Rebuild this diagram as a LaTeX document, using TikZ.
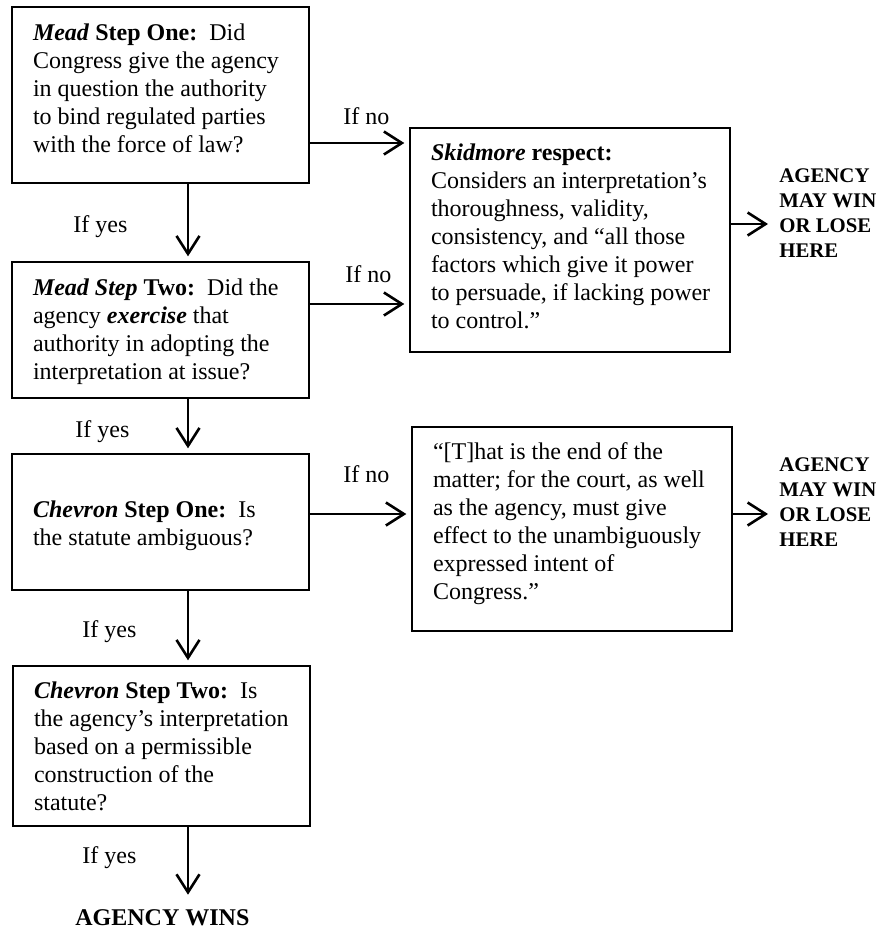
\documentclass[tikz,border=0pt]{standalone}
\usepackage{fontspec}
\setmainfont{Liberation Serif}
\usetikzlibrary{arrows.meta}
\newcommand\boxbody[4]{\parbox[c][#2][t]{#1}{\fontsize{12}{14}\selectfont\raggedright\leftskip=10.5pt\relax\rule{0pt}{#3}#4}}
\newcommand\verdict[1]{\parbox[t]{52pt}{\fontsize{10.4}{12.5}\selectfont\bfseries\raggedright #1}}
\tikzset{
  stepbox/.style={draw, line width=1.3pt, rectangle, inner sep=0pt},
  arr/.style={line width=1.3pt, -{Straight Barb[length=9pt,width=11.5pt]}, shorten >=2.2pt},
  lbl/.style={inner sep=0pt, anchor=base west, font=\fontsize{12}{14}\selectfont},
  verd/.style={inner sep=0pt, anchor=base west}
}
\begin{document}
\begin{tikzpicture}[x=0.5pt,y=-0.5pt]
\useasboundingbox (0,0) rectangle (883,928);
% main column
\node[stepbox] (b1) at (160.5,95) {\boxbody{148.5pt}{88pt}{16.5pt}{\textbf{\textit{Mead} Step One:}\ \ Did\\
Congress give the agency\\
in question the authority\\
to bind regulated parties\\
with the force of law?}};
\node[stepbox] (b2) at (160.5,330) {\boxbody{148.5pt}{68pt}{16.5pt}{\textbf{\textit{Mead Step} Two:}\ \ Did the\\
agency \textbf{\textit{exercise}} that\\
authority in adopting the\\
interpretation at issue?}};
\node[stepbox] (b3) at (160.5,522) {\boxbody{148.5pt}{68pt}{31.5pt}{\textbf{\textit{Chevron} Step One:}\ \ Is\\
the statute ambiguous?}};
\node[stepbox] (b4) at (161.5,746) {\boxbody{148.5pt}{80pt}{16pt}{\textbf{\textit{Chevron} Step Two:}\ \ Is\\
the agency’s interpretation\\
based on a permissible\\
construction of the\\
statute?}};
% side boxes
\node[stepbox] (s1) at (570,240) {\boxbody{160pt}{112pt}{16pt}{\textbf{\textit{Skidmore} respect:}\\
Considers an interpretation’s\\
thoroughness, validity,\\
consistency, and “all those\\
factors which give it power\\
to persuade, if lacking power\\
to control.”}};
\node[stepbox] (s2) at (572,529) {\boxbody{160pt}{102pt}{16pt}{“[T]hat is the end of the\\
matter; for the court, as well\\
as the agency, must give\\
effect to the unambiguously\\
expressed intent of\\
Congress.”}};
% outcomes
\node[verd] (a1) at (779,182) {\verdict{AGENCY\\MAY WIN\\OR LOSE\\HERE}};
\node[verd] (a2) at (779,471) {\verdict{AGENCY\\MAY WIN\\OR LOSE\\HERE}};
\node[lbl, font=\fontsize{12}{14}\selectfont\bfseries] (aw) at (75,925) {AGENCY WINS};
% labels
\node[lbl] (n1) at (343,124) {If no};
\node[lbl] (n2) at (345,282) {If no};
\node[lbl] (n3) at (343,482) {If no};
\node[lbl] (y1) at (73,232) {If yes};
\node[lbl] (y2) at (75,437) {If yes};
\node[lbl] (y3) at (82,637) {If yes};
\node[lbl] (y4) at (82,863) {If yes};
% helper coordinates
\coordinate (vx) at (188,0);
\coordinate (r1) at (0,143);
\coordinate (r2) at (0,304);
\coordinate (r3) at (0,514);
\coordinate (q1) at (0,224);
\coordinate (q2) at (0,514);
% connectors
\draw[arr] (b1.south -| vx) -- (b2.north -| vx);
\draw[arr] (b2.south -| vx) -- (b3.north -| vx);
\draw[arr] (b3.south -| vx) -- (b4.north -| vx);
\draw[arr, shorten >=7pt] (b4.south -| vx) -- (aw.north -| vx);
\draw[arr] (b1.east |- r1) -- (s1.west |- r1);
\draw[arr] (b2.east |- r2) -- (s1.west |- r2);
\draw[arr] (b3.east |- r3) -- (s2.west |- r3);
\draw[arr, shorten >=5.5pt] (s1.east |- q1) -- (a1.west |- q1);
\draw[arr, shorten >=5.5pt] (s2.east |- q2) -- (a2.west |- q2);
\end{tikzpicture}
\end{document}
